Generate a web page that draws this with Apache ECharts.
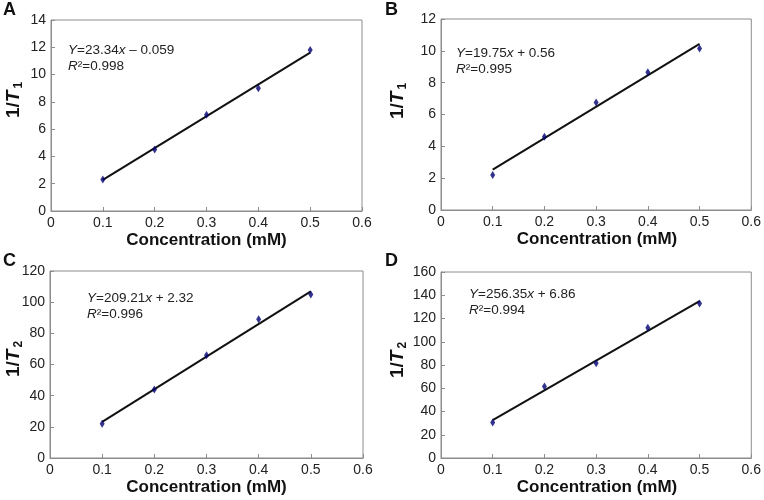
<!DOCTYPE html>
<html>
<head>
<meta charset="utf-8">
<script src="https://cdn.jsdelivr.net/npm/echarts@6/dist/echarts.min.js"></script>
<style>html,body{margin:0;padding:0;background:#fff;}#c{width:764px;height:500px;}</style>
</head>
<body>
<div id="c"></div>
<script>
// Data
const concentrations = [0.1, 0.2, 0.3, 0.4, 0.5];
const valuesA = [2.3, 4.5, 7.05, 9.0, 11.8];
const valuesB = [2.2, 4.6, 6.75, 8.65, 10.15];
const valuesC = [22, 44, 66, 89, 105];
const valuesD = [30.5, 61.5, 81.5, 112, 133];
// fitted line end points (at x = 0.1 and 0.5)
const fitX = [0.1, 0.5];
const fitA = [2.28, 11.61];
const fitB = [2.54, 10.44];
const fitC = [23.2, 106.9];
const fitD = [32.5, 135.0];
const xTicks = [0, 0.6, 0.1];
const yRanges = [[0, 14, 2], [0, 12, 2], [0, 120, 20], [0, 160, 20]];
const panelLetters = ['A', 'B', 'C', 'D'];
const equations = ['{i|Y}=23.34{i|x} – 0.059', '{i|Y}=19.75{i|x} + 0.56', '{i|Y}=209.21{i|x} + 2.32', '{i|Y}=256.35{i|x} + 6.86'];
const r2 = ['0.998', '0.995', '0.996', '0.994'];
const yLabelSub = ['1', '1', '2', '2'];
const xLabel = 'Concentration (mM)';

const FONT = 'Liberation Sans, Arial, sans-serif';
const grids = [
  {left: 51, top: 20, width: 311, height: 191},
  {left: 441, top: 19, width: 312, height: 191},
  {left: 50, top: 271, width: 313, height: 187},
  {left: 441, top: 272, width: 312, height: 186}
];
const values = [valuesA, valuesB, valuesC, valuesD];
const fits = [fitA, fitB, fitC, fitD];
const eqPos = [[68, 42], [456, 45], [87, 290], [469, 286]];
const yLabPos = [[14, 100], [398, 101], [14, 359], [398, 360]];
const letterPos = [[3, 1], [385, 1], [3, 252], [385, 252]];

const chart = echarts.init(document.getElementById('c'), null, {renderer: 'canvas'});
const option = {
  animation: false,
  backgroundColor: '#fff',
  grid: grids.map(g => Object.assign({show: true, borderColor: '#8c8c8c', borderWidth: 1, backgroundColor: 'transparent'}, g)),
  xAxis: grids.map((g, i) => ({
    type: 'value', gridIndex: i, min: xTicks[0], max: xTicks[1], interval: xTicks[2],
    axisLine: {show: true, lineStyle: {color: '#8c8c8c', width: 1}},
    axisTick: {show: true, inside: true, length: 4, lineStyle: {color: '#8c8c8c'}},
    splitLine: {show: false},
    axisLabel: {color: '#222', fontFamily: FONT, fontSize: 14, margin: 5,
      formatter: v => (Math.round(v * 10) / 10).toString()}
  })),
  yAxis: grids.map((g, i) => ({
    type: 'value', gridIndex: i, min: yRanges[i][0], max: yRanges[i][1], interval: yRanges[i][2],
    axisLine: {show: true, lineStyle: {color: '#8c8c8c', width: 1}},
    axisTick: {show: true, inside: true, length: 4, lineStyle: {color: '#8c8c8c'}},
    splitLine: {show: false},
    axisLabel: {color: '#222', fontFamily: FONT, fontSize: 14, margin: 5}
  })),
  series: [],
  graphic: []
};
for (let i = 0; i < 4; i++) {
  option.series.push({
    type: 'line', xAxisIndex: i, yAxisIndex: i,
    data: fitX.map((x, k) => [x, fits[i][k]]),
    symbol: 'none', lineStyle: {color: '#111', width: 2}, z: 2
  });
  option.series.push({
    type: 'scatter', xAxisIndex: i, yAxisIndex: i,
    data: concentrations.map((x, k) => [x, values[i][k]]),
    symbol: 'diamond', symbolSize: [5, 8],
    itemStyle: {color: '#000070'}, z: 3
  });
  option.graphic.push({
    type: 'text', left: letterPos[i][0], top: letterPos[i][1],
    style: {text: panelLetters[i], font: 'bold 18px ' + FONT, fill: '#111'}
  });
  option.graphic.push({
    type: 'text', x: eqPos[i][0], y: eqPos[i][1],
    style: {
      text: equations[i] + '\n{i|R}²=' + r2[i],
      font: '13.5px ' + FONT, fill: '#222', lineHeight: 16, verticalAlign: 'top',
      rich: {i: {fontStyle: 'italic', font: 'italic 13.5px ' + FONT, fill: '#222', lineHeight: 16}}
    }
  });
  option.graphic.push({
    type: 'text', x: yLabPos[i][0], y: yLabPos[i][1], rotation: Math.PI / 2,
    style: {
      text: '{b|1/}{bi|T}{s|' + yLabelSub[i] + '}',
      align: 'center', verticalAlign: 'middle',
      rich: {
        b: {font: 'bold 19px ' + FONT, fill: '#111'},
        bi: {font: 'italic bold 19px ' + FONT, fill: '#111'},
        s: {font: 'bold 12px ' + FONT, fill: '#111', padding: [9, 0, 0, 2]}
      }
    }
  });
  const g = grids[i];
  option.graphic.push({
    type: 'text', x: g.left + g.width / 2, y: g.top + g.height + 29,
    style: {text: xLabel, font: 'bold 17px ' + FONT, fill: '#111', align: 'center', verticalAlign: 'middle'}
  });
}
chart.setOption(option);
</script>
</body>
</html>
